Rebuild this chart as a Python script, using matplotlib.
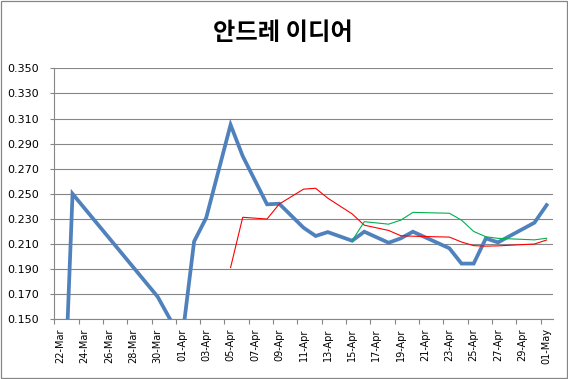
import matplotlib.pyplot as plt
from matplotlib.patches import Rectangle
import numpy as np
import pandas as pd

# categories: one per day, 22-Mar .. 01-May
days = pd.date_range('2012-03-22', '2012-05-01', freq='D')
labels = [d.strftime('%d-%b') for d in days]

N = np.nan
blue = [0.000, 0.250, N, N, N, N, N, N, 0.168, N,
        0.133, 0.212, 0.231, N, 0.305, 0.280, N, 0.2416, 0.2421, N,
        0.223, 0.2164, 0.2195, N, 0.2126, 0.2198, N, 0.211, 0.2145, 0.2198,
        N, N, 0.2066, 0.1944, 0.1944, 0.2145, 0.2113, N, N, 0.227,
        0.241]
red = [N, N, N, N, N, N, N, N, N, N,
       N, N, N, N, 0.1912, 0.2313, N, 0.2299, 0.2418, N,
       0.2537, 0.2544, 0.2465, N, 0.2340, 0.2250, N, 0.2208, 0.2166, 0.2162,
       N, N, 0.2155, 0.2116, 0.2087, 0.2083, 0.2085, N, N, 0.2100,
       0.2132]
green = [N, N, N, N, N, N, N, N, N, N,
         N, N, N, N, N, N, N, N, N, N,
         N, N, N, N, 0.2126, 0.2278, N, 0.2258, 0.2290, 0.2352,
         N, N, 0.2345, 0.2290, 0.2200, 0.2158, 0.2145, N, N, 0.2133,
         0.2146]

title = '안드레 이디어'
yticks = np.arange(0.150, 0.3501, 0.020)

W, H = 568, 379
fig = plt.figure(figsize=(W / 100, H / 100), dpi=100)
ax = fig.add_axes([54.3 / W, (H - 319.3) / H, (552.7 - 54.3) / W, (319.3 - 68.3) / H])

x = np.arange(len(labels))
grey = '#868686'

def draw(vals, **kw):
    s = pd.Series(vals, index=x).dropna()
    ax.plot(s.index, s.values, solid_joinstyle='miter', **kw)

draw(blue, color='#4F81BD', lw=2.7, zorder=3)
draw(red, color='#FF0000', lw=0.8, zorder=4)
draw(green, color='#00B050', lw=0.8, zorder=5)

ax.set_xlim(-0.5, len(labels) - 0.5)
ax.set_ylim(0.150, 0.350)

ax.set_yticks(yticks)
ax.set_yticklabels([f'{v:.3f}' for v in yticks], fontsize=8, family='DejaVu Sans')
ax.tick_params(axis='y', length=3, width=0.8, color=grey, pad=8, labelcolor='black')
ax.grid(axis='y', color=grey, lw=0.8)
ax.set_axisbelow(True)

ax.set_xticks(x[::2])
ax.set_xticklabels(labels[::2], rotation=90, fontsize=7, family='DejaVu Sans')
ax.tick_params(axis='x', which='major', length=0, pad=6.5, labelcolor='black')
ax.set_xticks(np.arange(-0.5, len(labels) - 1, 2), minor=True)
ax.tick_params(axis='x', which='minor', length=3.5, width=0.8, color=grey)

for side in ['top', 'right']:
    ax.spines[side].set_visible(False)
for side in ['left', 'bottom']:
    ax.spines[side].set_color(grey)
    ax.spines[side].set_linewidth(0.8)

fig.text(282.5 / W, 1 - 33 / H, title, ha='center', va='center',
         fontsize=17.5, fontweight='bold', family=['Noto Sans CJK KR', 'DejaVu Sans'])

fig.patches.append(Rectangle((0.5 / W, 1.5 / H), 566 / W, 376.5 / H,
                             transform=fig.transFigure, fill=False,
                             edgecolor=grey, lw=0.9))

fig.savefig('out.png', dpi=100)
